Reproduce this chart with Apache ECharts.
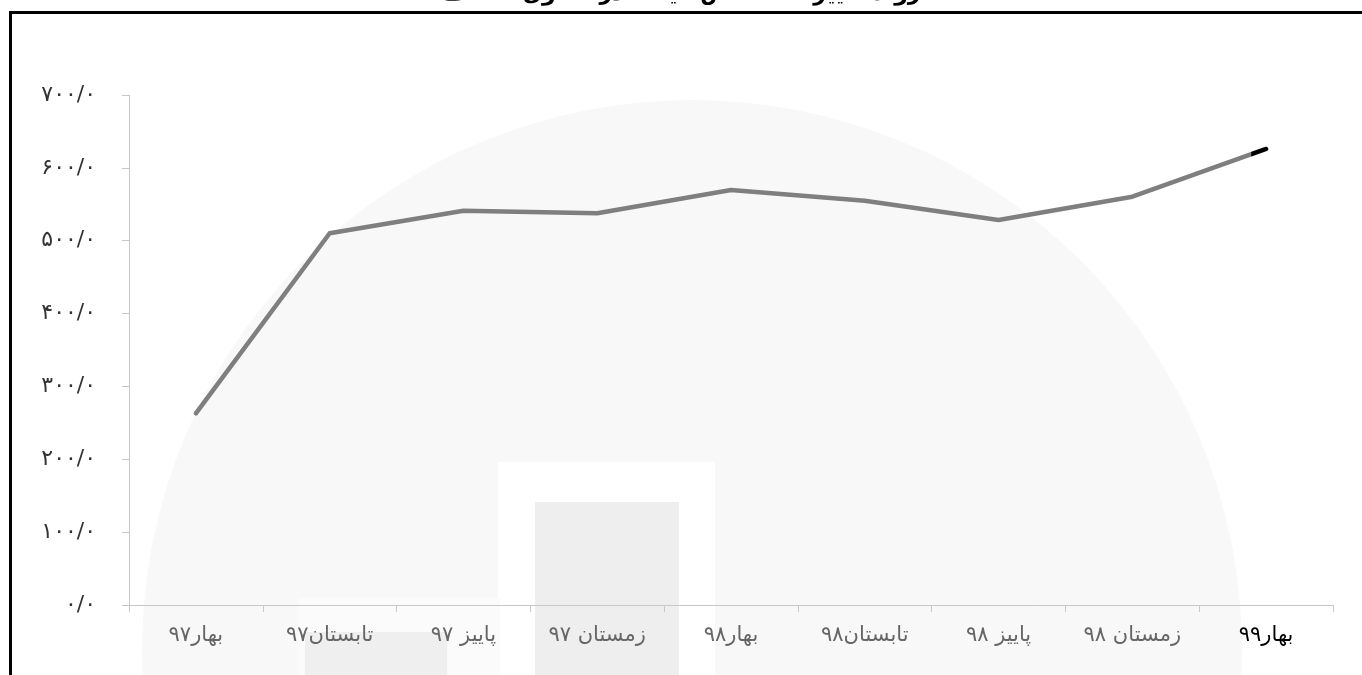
<!DOCTYPE html>
<html><head><meta charset="utf-8">
<script src="https://cdn.jsdelivr.net/npm/echarts@6/dist/echarts.min.js"></script>
<style>html,body{margin:0;padding:0;background:#fff}#c{width:1362px;height:675px}</style>
</head><body><div id="c"></div>
<script>
const categories = ['بهار۹۷','تابستان۹۷','پاییز ۹۷','زمستان ۹۷','بهار۹۸','تابستان۹۸','پاییز ۹۸','زمستان ۹۸','بهار۹۹'];
const values = [263.1, 510.2, 541.2, 537.6, 569.6, 554.9, 528.4, 560.4, 625.9];
const yTickLabels = ['۰/۰','۱۰۰/۰','۲۰۰/۰','۳۰۰/۰','۴۰۰/۰','۵۰۰/۰','۶۰۰/۰','۷۰۰/۰'];
const titleText = 'روند تغییرات شاخص قیمت در فصول مختلف';

const W = 1362;
const chart = echarts.init(document.getElementById('c'));
const font = "'DejaVu Sans', 'Noto Sans', sans-serif";
chart.setOption({
  animation: false,
  backgroundColor: '#fff',
  title: { text: titleText, left: 'center', top: -22,
    textStyle: { fontSize: 22, fontWeight: 'bold', color: '#000', fontFamily: font } },
  graphic: [
    { type: 'circle', z: -10, shape: { cx: 692, cy: 650, r: 550 }, style: { fill: '#f8f8f8' }, silent: true },
    { type: 'rect', z: -9, shape: { x: 498, y: 462, width: 217, height: 220 }, style: { fill: '#ffffff' }, silent: true },
    { type: 'rect', z: -8, shape: { x: 535, y: 502, width: 144, height: 180 }, style: { fill: '#eeeeee' }, silent: true },
    { type: 'rect', z: -9, shape: { x: 298, y: 598, width: 202, height: 90 }, style: { fill: '#fbfbfb' }, silent: true },
    { type: 'rect', z: -8, shape: { x: 305, y: 632, width: 142, height: 60 }, style: { fill: '#efefef' }, silent: true },
    { type: 'rect', z: 100, shape: { x: 10.5, y: 12.5, width: 1360, height: 700 }, style: { fill: 'none', stroke: '#000', lineWidth: 3 }, silent: true }
  ],
  grid: { left: 129, right: 29, top: 95, bottom: 70, containLabel: false },
  xAxis: {
    type: 'category', data: categories, boundaryGap: true,
    axisLine: { lineStyle: { color: '#c8c8c8', width: 1 } },
    axisTick: { show: true, length: 7, lineStyle: { color: '#c8c8c8' } },
    axisLabel: { margin: 20, fontSize: 21, fontFamily: font,
      color: (v, i) => i === categories.length - 1 ? '#000' : '#666' }
  },
  yAxis: {
    type: 'value', min: 0, max: 700, interval: 100,
    axisLine: { show: true, lineStyle: { color: '#c8c8c8', width: 1 } },
    axisTick: { show: true, length: 7, lineStyle: { color: '#c8c8c8' } },
    splitLine: { show: false },
    axisLabel: { margin: 33, fontSize: 22, color: '#333', fontFamily: font,
      formatter: v => yTickLabels[Math.round(v / 100)] }
  },
  series: [{
    type: 'line', data: values, symbol: 'none', smooth: false,
    lineStyle: { width: 4.5, cap: 'round', join: 'round', color: '#7f7f7f' }
  }]
});
// black tip on the final segment (as in the reference)
const n = categories.length;
const pA = chart.convertToPixel({ xAxisIndex: 0 }, categories[n - 2]);
const pB = chart.convertToPixel({ xAxisIndex: 0 }, categories[n - 1]);
const xs = (pB - 0.11 * (pB - pA)) / W;
chart.setOption({ series: [{ lineStyle: { color: new echarts.graphic.LinearGradient(0, 0, W, 0, [
  { offset: 0, color: '#7f7f7f' }, { offset: xs, color: '#7f7f7f' },
  { offset: xs + 0.0001, color: '#000000' }, { offset: 1, color: '#000000' }
], true) } }] });
</script></body></html>
